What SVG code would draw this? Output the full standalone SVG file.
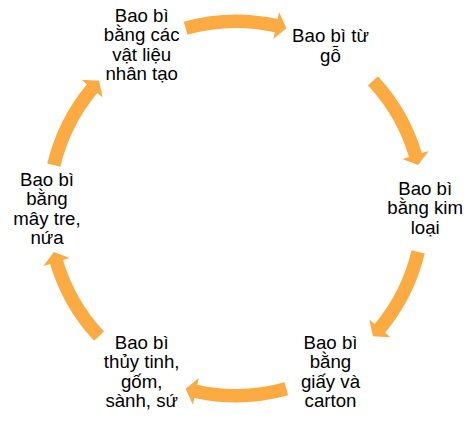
<svg xmlns="http://www.w3.org/2000/svg" width="472" height="423" viewBox="0 0 472 423">
<style>
.t{font-family:"Liberation Sans",Arial,sans-serif;font-size:18.67px;fill:#000;text-anchor:middle}
.ar{fill:#FBAB41}
</style>
<defs>
<path id="a1" d="M183.83,21.65 A194,194 0 0 1 277.66,19.03 L279.16,12.19 L286.36,28.15 L273.26,39.05 L274.76,32.21 A180.5,180.5 0 0 0 187.46,34.65 Z"/>
<path id="a2" d="M377.88,76.19 A194,194 0 0 1 421.91,153.08 L428.62,151.08 L418.15,165.10 L402.27,158.93 L408.98,156.93 A180.5,180.5 0 0 0 368.01,85.40 Z"/>
</defs>
<rect width="472" height="423" fill="#fff"/>
<g id="connectors" class="ar">
<use href="#a1"/>
<use href="#a2"/>
<use href="#a2" transform="rotate(56.4 236 208.5)"/>
<use href="#a1" transform="rotate(180 236 208.5)"/>
<use href="#a2" transform="rotate(180 236 208.5)"/>
<use href="#a2" transform="rotate(236.4 236 208.5)"/>
</g>
<g id="node1"><text class="t" x="141.7" y="21.7">Bao bì</text><text class="t" x="141.7" y="41.1">bằng các</text><text class="t" x="141.7" y="60.5">vật liệu</text><text class="t" x="141.7" y="79.9">nhân tạo</text></g>
<g id="node2"><text class="t" x="330.5" y="42.3">Bao bì từ</text><text class="t" x="330.5" y="61.7">gỗ</text></g>
<g id="node3"><text class="t" x="425.2" y="195">Bao bì</text><text class="t" x="425.2" y="214.4">bằng kim</text><text class="t" x="425.2" y="233.8">loại</text></g>
<g id="node4"><text class="t" x="330.5" y="349">Bao bì</text><text class="t" x="330.5" y="368.4">bằng</text><text class="t" x="330.5" y="387.8">giấy và</text><text class="t" x="330.5" y="407.2">carton</text></g>
<g id="node5"><text class="t" x="141.7" y="349">Bao bì</text><text class="t" x="141.7" y="368.4">thủy tinh,</text><text class="t" x="141.7" y="387.8">gốm,</text><text class="t" x="141.7" y="407.2">sành, sứ</text></g>
<g id="node6"><text class="t" x="47" y="185.7">Bao bì</text><text class="t" x="47" y="205.1">bằng</text><text class="t" x="47" y="224.5">mây tre,</text><text class="t" x="47" y="243.9">nứa</text></g>
</svg>
